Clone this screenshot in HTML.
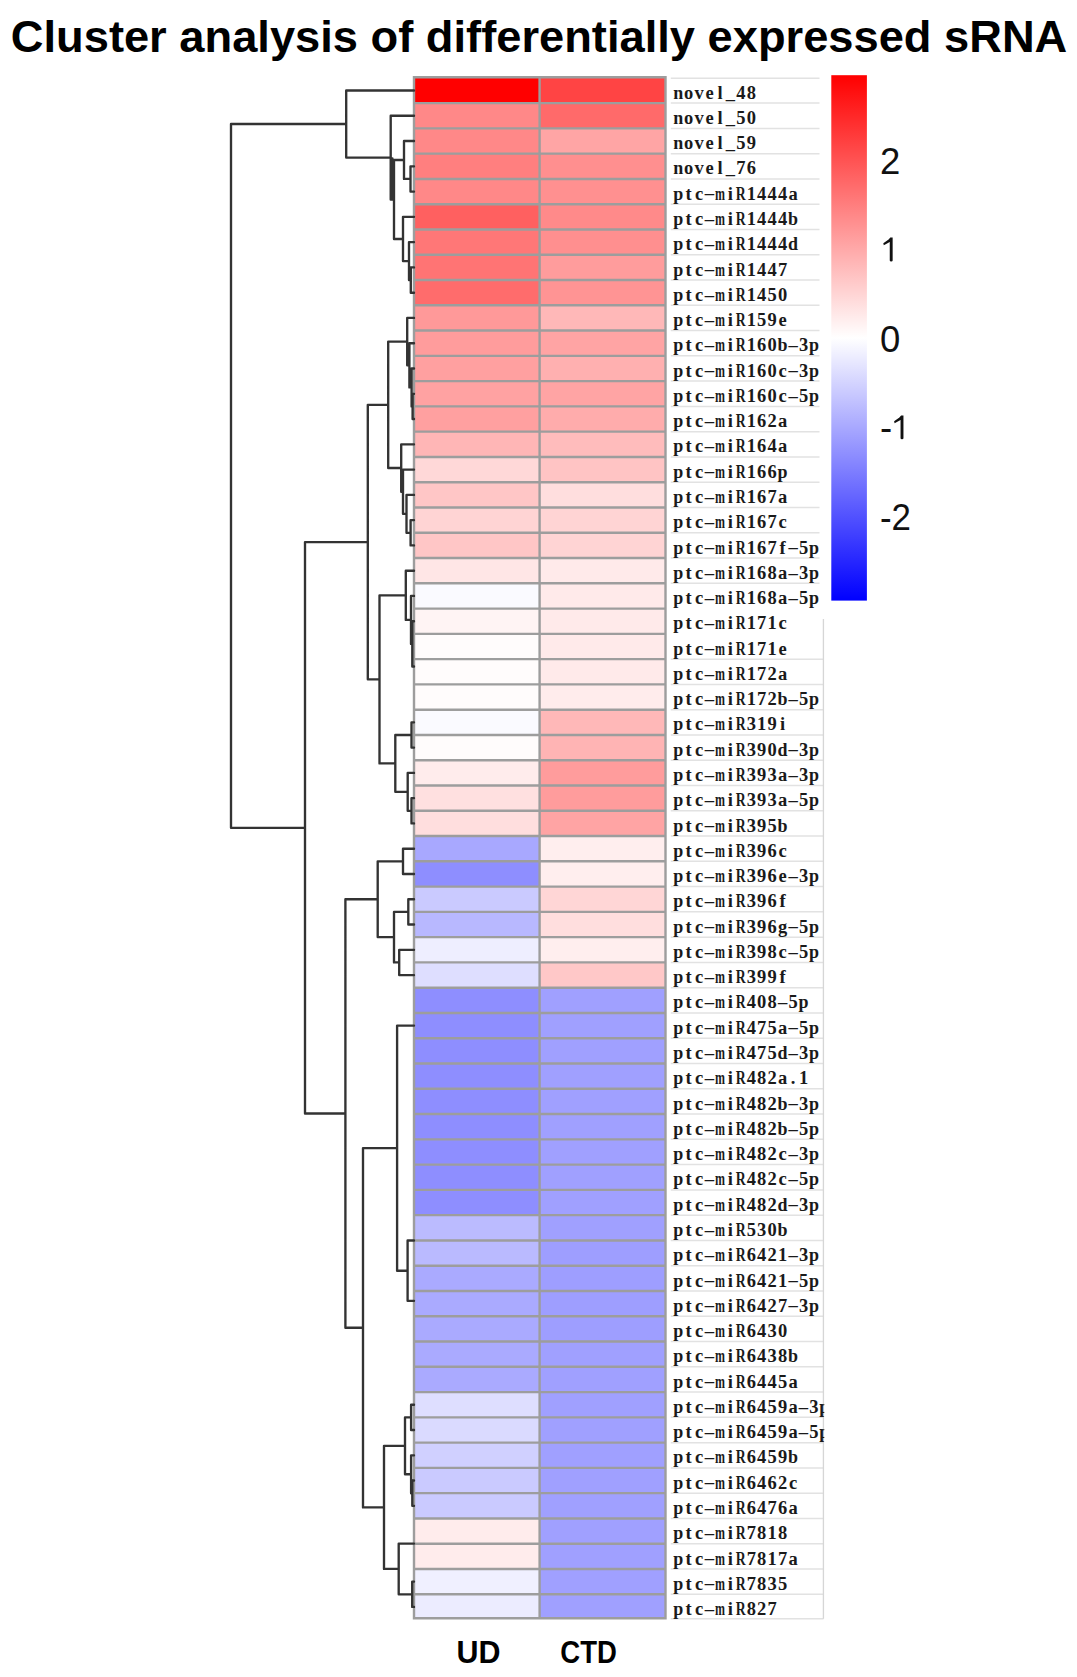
<!DOCTYPE html>
<html><head><meta charset="utf-8"><title>Cluster analysis of differentially expressed sRNA</title>
<style>
html,body{margin:0;padding:0;background:#fff;}
body{width:1077px;height:1677px;overflow:hidden;font-family:"Liberation Sans",sans-serif;}
svg{display:block;}
</style></head><body>
<svg width="1077" height="1677" viewBox="0 0 1077 1677">
<defs><linearGradient id="cb" x1="0" y1="0" x2="0" y2="1"><stop offset="0" stop-color="#ff0000"/><stop offset="0.5" stop-color="#ffffff"/><stop offset="1" stop-color="#0000ff"/></linearGradient></defs>
<rect x="0" y="0" width="1077" height="1677" fill="#ffffff"/>
<text x="10.8" y="52.2" font-family="Liberation Sans" font-weight="bold" font-size="45" textLength="1056.5" lengthAdjust="spacingAndGlyphs" fill="#000">Cluster analysis of differentially expressed sRNA</text>
<rect x="414.0" y="77.30" width="125.6" height="25.80" fill="#ff0000"/>
<rect x="539.6" y="77.30" width="125.9" height="25.80" fill="#ff4444"/>
<rect x="414.0" y="103.10" width="125.6" height="25.27" fill="#ff8888"/>
<rect x="539.6" y="103.10" width="125.9" height="25.27" fill="#ff6a6a"/>
<rect x="414.0" y="128.38" width="125.6" height="25.27" fill="#ff8888"/>
<rect x="539.6" y="128.38" width="125.9" height="25.27" fill="#ffa5a5"/>
<rect x="414.0" y="153.65" width="125.6" height="25.27" fill="#ff7f7f"/>
<rect x="539.6" y="153.65" width="125.9" height="25.27" fill="#ff8f8f"/>
<rect x="414.0" y="178.93" width="125.6" height="25.27" fill="#ff8888"/>
<rect x="539.6" y="178.93" width="125.9" height="25.27" fill="#ff9090"/>
<rect x="414.0" y="204.20" width="125.6" height="25.27" fill="#ff6060"/>
<rect x="539.6" y="204.20" width="125.9" height="25.27" fill="#ff8a8a"/>
<rect x="414.0" y="229.47" width="125.6" height="25.27" fill="#ff7777"/>
<rect x="539.6" y="229.47" width="125.9" height="25.27" fill="#ff8f8f"/>
<rect x="414.0" y="254.75" width="125.6" height="25.27" fill="#ff7474"/>
<rect x="539.6" y="254.75" width="125.9" height="25.27" fill="#ff9c9c"/>
<rect x="414.0" y="280.02" width="125.6" height="25.27" fill="#ff6c6c"/>
<rect x="539.6" y="280.02" width="125.9" height="25.27" fill="#ff9494"/>
<rect x="414.0" y="305.30" width="125.6" height="25.27" fill="#ff9999"/>
<rect x="539.6" y="305.30" width="125.9" height="25.27" fill="#ffb8b8"/>
<rect x="414.0" y="330.57" width="125.6" height="25.27" fill="#ff9c9c"/>
<rect x="539.6" y="330.57" width="125.9" height="25.27" fill="#ffa4a4"/>
<rect x="414.0" y="355.84" width="125.6" height="25.27" fill="#ffa0a0"/>
<rect x="539.6" y="355.84" width="125.9" height="25.27" fill="#ffb0b0"/>
<rect x="414.0" y="381.12" width="125.6" height="25.27" fill="#ffa2a2"/>
<rect x="539.6" y="381.12" width="125.9" height="25.27" fill="#ffa4a4"/>
<rect x="414.0" y="406.39" width="125.6" height="25.27" fill="#ffa0a0"/>
<rect x="539.6" y="406.39" width="125.9" height="25.27" fill="#ffacac"/>
<rect x="414.0" y="431.67" width="125.6" height="25.27" fill="#ffb6b6"/>
<rect x="539.6" y="431.67" width="125.9" height="25.27" fill="#ffbcbc"/>
<rect x="414.0" y="456.94" width="125.6" height="25.27" fill="#ffd8d8"/>
<rect x="539.6" y="456.94" width="125.9" height="25.27" fill="#ffc4c4"/>
<rect x="414.0" y="482.21" width="125.6" height="25.27" fill="#ffc6c6"/>
<rect x="539.6" y="482.21" width="125.9" height="25.27" fill="#ffdede"/>
<rect x="414.0" y="507.49" width="125.6" height="25.27" fill="#ffd4d4"/>
<rect x="539.6" y="507.49" width="125.9" height="25.27" fill="#ffd4d4"/>
<rect x="414.0" y="532.76" width="125.6" height="25.27" fill="#ffc6c6"/>
<rect x="539.6" y="532.76" width="125.9" height="25.27" fill="#ffd4d4"/>
<rect x="414.0" y="558.04" width="125.6" height="25.27" fill="#ffe6e6"/>
<rect x="539.6" y="558.04" width="125.9" height="25.27" fill="#ffeaea"/>
<rect x="414.0" y="583.31" width="125.6" height="25.27" fill="#fafaff"/>
<rect x="539.6" y="583.31" width="125.9" height="25.27" fill="#ffeaea"/>
<rect x="414.0" y="608.58" width="125.6" height="25.27" fill="#fff4f4"/>
<rect x="539.6" y="608.58" width="125.9" height="25.27" fill="#ffeaea"/>
<rect x="414.0" y="633.86" width="125.6" height="25.27" fill="#fffcfc"/>
<rect x="539.6" y="633.86" width="125.9" height="25.27" fill="#ffeaea"/>
<rect x="414.0" y="659.13" width="125.6" height="25.27" fill="#fffcfc"/>
<rect x="539.6" y="659.13" width="125.9" height="25.27" fill="#ffeaea"/>
<rect x="414.0" y="684.41" width="125.6" height="25.27" fill="#fffcfc"/>
<rect x="539.6" y="684.41" width="125.9" height="25.27" fill="#ffecec"/>
<rect x="414.0" y="709.68" width="125.6" height="25.27" fill="#fafaff"/>
<rect x="539.6" y="709.68" width="125.9" height="25.27" fill="#ffb8b8"/>
<rect x="414.0" y="734.95" width="125.6" height="25.27" fill="#fffcfc"/>
<rect x="539.6" y="734.95" width="125.9" height="25.27" fill="#ffb4b4"/>
<rect x="414.0" y="760.23" width="125.6" height="25.27" fill="#ffecec"/>
<rect x="539.6" y="760.23" width="125.9" height="25.27" fill="#ff9c9c"/>
<rect x="414.0" y="785.50" width="125.6" height="25.27" fill="#ffe0e0"/>
<rect x="539.6" y="785.50" width="125.9" height="25.27" fill="#ff9c9c"/>
<rect x="414.0" y="810.78" width="125.6" height="25.27" fill="#ffdede"/>
<rect x="539.6" y="810.78" width="125.9" height="25.27" fill="#ffa4a4"/>
<rect x="414.0" y="836.05" width="125.6" height="25.27" fill="#a8a8ff"/>
<rect x="539.6" y="836.05" width="125.9" height="25.27" fill="#ffeeee"/>
<rect x="414.0" y="861.32" width="125.6" height="25.27" fill="#8e8eff"/>
<rect x="539.6" y="861.32" width="125.9" height="25.27" fill="#ffeeee"/>
<rect x="414.0" y="886.60" width="125.6" height="25.27" fill="#cacaff"/>
<rect x="539.6" y="886.60" width="125.9" height="25.27" fill="#ffd6d6"/>
<rect x="414.0" y="911.87" width="125.6" height="25.27" fill="#b8b8ff"/>
<rect x="539.6" y="911.87" width="125.9" height="25.27" fill="#ffdede"/>
<rect x="414.0" y="937.15" width="125.6" height="25.27" fill="#eeeeff"/>
<rect x="539.6" y="937.15" width="125.9" height="25.27" fill="#ffeeee"/>
<rect x="414.0" y="962.42" width="125.6" height="25.27" fill="#dedeff"/>
<rect x="539.6" y="962.42" width="125.9" height="25.27" fill="#ffc8c8"/>
<rect x="414.0" y="987.69" width="125.6" height="25.27" fill="#8e8eff"/>
<rect x="539.6" y="987.69" width="125.9" height="25.27" fill="#a0a0ff"/>
<rect x="414.0" y="1012.97" width="125.6" height="25.27" fill="#8e8eff"/>
<rect x="539.6" y="1012.97" width="125.9" height="25.27" fill="#a0a0ff"/>
<rect x="414.0" y="1038.24" width="125.6" height="25.27" fill="#8e8eff"/>
<rect x="539.6" y="1038.24" width="125.9" height="25.27" fill="#a0a0ff"/>
<rect x="414.0" y="1063.52" width="125.6" height="25.27" fill="#8e8eff"/>
<rect x="539.6" y="1063.52" width="125.9" height="25.27" fill="#a0a0ff"/>
<rect x="414.0" y="1088.79" width="125.6" height="25.27" fill="#8e8eff"/>
<rect x="539.6" y="1088.79" width="125.9" height="25.27" fill="#a0a0ff"/>
<rect x="414.0" y="1114.06" width="125.6" height="25.27" fill="#8e8eff"/>
<rect x="539.6" y="1114.06" width="125.9" height="25.27" fill="#a0a0ff"/>
<rect x="414.0" y="1139.34" width="125.6" height="25.27" fill="#8e8eff"/>
<rect x="539.6" y="1139.34" width="125.9" height="25.27" fill="#a0a0ff"/>
<rect x="414.0" y="1164.61" width="125.6" height="25.27" fill="#8e8eff"/>
<rect x="539.6" y="1164.61" width="125.9" height="25.27" fill="#a0a0ff"/>
<rect x="414.0" y="1189.89" width="125.6" height="25.27" fill="#8e8eff"/>
<rect x="539.6" y="1189.89" width="125.9" height="25.27" fill="#a0a0ff"/>
<rect x="414.0" y="1215.16" width="125.6" height="25.27" fill="#bbbbff"/>
<rect x="539.6" y="1215.16" width="125.9" height="25.27" fill="#a0a0ff"/>
<rect x="414.0" y="1240.43" width="125.6" height="25.27" fill="#babaff"/>
<rect x="539.6" y="1240.43" width="125.9" height="25.27" fill="#9e9eff"/>
<rect x="414.0" y="1265.71" width="125.6" height="25.27" fill="#aaaaff"/>
<rect x="539.6" y="1265.71" width="125.9" height="25.27" fill="#9e9eff"/>
<rect x="414.0" y="1290.98" width="125.6" height="25.27" fill="#aaaaff"/>
<rect x="539.6" y="1290.98" width="125.9" height="25.27" fill="#9e9eff"/>
<rect x="414.0" y="1316.26" width="125.6" height="25.27" fill="#aaaaff"/>
<rect x="539.6" y="1316.26" width="125.9" height="25.27" fill="#9e9eff"/>
<rect x="414.0" y="1341.53" width="125.6" height="25.27" fill="#aaaaff"/>
<rect x="539.6" y="1341.53" width="125.9" height="25.27" fill="#a0a0ff"/>
<rect x="414.0" y="1366.80" width="125.6" height="25.27" fill="#aaaaff"/>
<rect x="539.6" y="1366.80" width="125.9" height="25.27" fill="#a0a0ff"/>
<rect x="414.0" y="1392.08" width="125.6" height="25.27" fill="#dedeff"/>
<rect x="539.6" y="1392.08" width="125.9" height="25.27" fill="#a0a0ff"/>
<rect x="414.0" y="1417.35" width="125.6" height="25.27" fill="#dadaff"/>
<rect x="539.6" y="1417.35" width="125.9" height="25.27" fill="#a0a0ff"/>
<rect x="414.0" y="1442.63" width="125.6" height="25.27" fill="#d0d0ff"/>
<rect x="539.6" y="1442.63" width="125.9" height="25.27" fill="#a0a0ff"/>
<rect x="414.0" y="1467.90" width="125.6" height="25.27" fill="#cacaff"/>
<rect x="539.6" y="1467.90" width="125.9" height="25.27" fill="#a0a0ff"/>
<rect x="414.0" y="1493.17" width="125.6" height="25.27" fill="#cacaff"/>
<rect x="539.6" y="1493.17" width="125.9" height="25.27" fill="#a0a0ff"/>
<rect x="414.0" y="1518.45" width="125.6" height="25.27" fill="#ffecec"/>
<rect x="539.6" y="1518.45" width="125.9" height="25.27" fill="#a0a0ff"/>
<rect x="414.0" y="1543.72" width="125.6" height="25.27" fill="#ffecec"/>
<rect x="539.6" y="1543.72" width="125.9" height="25.27" fill="#a0a0ff"/>
<rect x="414.0" y="1569.00" width="125.6" height="25.27" fill="#f0f0ff"/>
<rect x="539.6" y="1569.00" width="125.9" height="25.27" fill="#a0a0ff"/>
<rect x="414.0" y="1594.27" width="125.6" height="24.03" fill="#ececff"/>
<rect x="539.6" y="1594.27" width="125.9" height="24.03" fill="#a0a0ff"/>
<path d="M412.8 77.30H666.7M412.8 103.10H666.7M412.8 128.38H666.7M412.8 153.65H666.7M412.8 178.93H666.7M412.8 204.20H666.7M412.8 229.47H666.7M412.8 254.75H666.7M412.8 280.02H666.7M412.8 305.30H666.7M412.8 330.57H666.7M412.8 355.84H666.7M412.8 381.12H666.7M412.8 406.39H666.7M412.8 431.67H666.7M412.8 456.94H666.7M412.8 482.21H666.7M412.8 507.49H666.7M412.8 532.76H666.7M412.8 558.04H666.7M412.8 583.31H666.7M412.8 608.58H666.7M412.8 633.86H666.7M412.8 659.13H666.7M412.8 684.41H666.7M412.8 709.68H666.7M412.8 734.95H666.7M412.8 760.23H666.7M412.8 785.50H666.7M412.8 810.78H666.7M412.8 836.05H666.7M412.8 861.32H666.7M412.8 886.60H666.7M412.8 911.87H666.7M412.8 937.15H666.7M412.8 962.42H666.7M412.8 987.69H666.7M412.8 1012.97H666.7M412.8 1038.24H666.7M412.8 1063.52H666.7M412.8 1088.79H666.7M412.8 1114.06H666.7M412.8 1139.34H666.7M412.8 1164.61H666.7M412.8 1189.89H666.7M412.8 1215.16H666.7M412.8 1240.43H666.7M412.8 1265.71H666.7M412.8 1290.98H666.7M412.8 1316.26H666.7M412.8 1341.53H666.7M412.8 1366.80H666.7M412.8 1392.08H666.7M412.8 1417.35H666.7M412.8 1442.63H666.7M412.8 1467.90H666.7M412.8 1493.17H666.7M412.8 1518.45H666.7M412.8 1543.72H666.7M412.8 1569.00H666.7M412.8 1594.27H666.7M412.8 1618.30H666.7M414.0 76.1V1619.5M539.6 76.1V1619.5M665.5 76.1V1619.5" stroke="#9d9d9d" stroke-width="2.4" fill="none"/>
<path d="M670.8 78.30H819.5M670.8 103.10H819.5M670.8 128.38H819.5M670.8 153.65H819.5M670.8 178.93H819.5M670.8 204.20H819.5M670.8 229.47H819.5M670.8 254.75H819.5M670.8 280.02H819.5M670.8 305.30H819.5M670.8 330.57H819.5M670.8 355.84H819.5M670.8 381.12H819.5M670.8 406.39H819.5M670.8 431.67H819.5M670.8 456.94H819.5M670.8 482.21H819.5M670.8 507.49H819.5M670.8 532.76H819.5M670.8 558.04H819.5M670.8 583.31H819.5M670.8 659.13H823.5M670.8 684.41H823.5M670.8 709.68H823.5M670.8 734.95H823.5M670.8 760.23H823.5M670.8 785.50H823.5M670.8 810.78H823.5M670.8 836.05H823.5M670.8 861.32H823.5M670.8 886.60H823.5M670.8 911.87H823.5M670.8 937.15H823.5M670.8 962.42H823.5M670.8 987.69H823.5M670.8 1012.97H823.5M670.8 1038.24H823.5M670.8 1063.52H823.5M670.8 1088.79H823.5M670.8 1114.06H823.5M670.8 1139.34H823.5M670.8 1164.61H823.5M670.8 1189.89H823.5M670.8 1215.16H823.5M670.8 1240.43H823.5M670.8 1265.71H823.5M670.8 1290.98H823.5M670.8 1316.26H823.5M670.8 1341.53H823.5M670.8 1366.80H823.5M670.8 1392.08H823.5M670.8 1417.35H823.5M670.8 1442.63H823.5M670.8 1467.90H823.5M670.8 1493.17H823.5M670.8 1518.45H823.5M670.8 1543.72H823.5M670.8 1569.00H823.5M670.8 1594.27H823.5M670.8 1618.80H823.5" stroke="#e2e2e2" stroke-width="1.5" fill="none"/>
<path d="M823.5 619V1618.8" stroke="#d6d6d6" stroke-width="1.5" fill="none"/>
<g font-family="Liberation Serif" font-weight="bold" font-size="18.5" fill="#1a1a1a" text-anchor="middle">
<text transform="translate(678.22 98.63) scale(0.972 1)">n</text>
<text x="688.66 699.10 709.54 719.98 730.42 740.86 751.30" y="98.63">ovel_48</text>
<text transform="translate(678.22 123.90) scale(0.972 1)">n</text>
<text x="688.66 699.10 709.54 719.98 730.42 740.86 751.30" y="123.90">ovel_50</text>
<text transform="translate(678.22 149.18) scale(0.972 1)">n</text>
<text x="688.66 699.10 709.54 719.98 730.42 740.86 751.30" y="149.18">ovel_59</text>
<text transform="translate(678.22 174.45) scale(0.972 1)">n</text>
<text x="688.66 699.10 709.54 719.98 730.42 740.86 751.30" y="174.45">ovel_76</text>
<text transform="translate(678.22 199.73) scale(0.972 1)">p</text>
<text transform="translate(709.54 194.43) scale(2.0 0.75)" y="5.3">-</text>
<text transform="translate(719.98 199.73) scale(0.649 1)">m</text>
<text transform="translate(740.86 199.73) scale(0.748 1)">R</text>
<text x="688.66 699.10 730.42 751.30 761.74 772.18 782.62 793.06" y="199.73">tci1444a</text>
<text transform="translate(678.22 225.00) scale(0.972 1)">p</text>
<text transform="translate(709.54 219.70) scale(2.0 0.75)" y="5.3">-</text>
<text transform="translate(719.98 225.00) scale(0.649 1)">m</text>
<text transform="translate(740.86 225.00) scale(0.748 1)">R</text>
<text transform="translate(793.06 225.00) scale(0.972 1)">b</text>
<text x="688.66 699.10 730.42 751.30 761.74 772.18 782.62" y="225.00">tci1444</text>
<text transform="translate(678.22 250.27) scale(0.972 1)">p</text>
<text transform="translate(709.54 244.97) scale(2.0 0.75)" y="5.3">-</text>
<text transform="translate(719.98 250.27) scale(0.649 1)">m</text>
<text transform="translate(740.86 250.27) scale(0.748 1)">R</text>
<text transform="translate(793.06 250.27) scale(0.972 1)">d</text>
<text x="688.66 699.10 730.42 751.30 761.74 772.18 782.62" y="250.27">tci1444</text>
<text transform="translate(678.22 275.55) scale(0.972 1)">p</text>
<text transform="translate(709.54 270.25) scale(2.0 0.75)" y="5.3">-</text>
<text transform="translate(719.98 275.55) scale(0.649 1)">m</text>
<text transform="translate(740.86 275.55) scale(0.748 1)">R</text>
<text x="688.66 699.10 730.42 751.30 761.74 772.18 782.62" y="275.55">tci1447</text>
<text transform="translate(678.22 300.82) scale(0.972 1)">p</text>
<text transform="translate(709.54 295.52) scale(2.0 0.75)" y="5.3">-</text>
<text transform="translate(719.98 300.82) scale(0.649 1)">m</text>
<text transform="translate(740.86 300.82) scale(0.748 1)">R</text>
<text x="688.66 699.10 730.42 751.30 761.74 772.18 782.62" y="300.82">tci1450</text>
<text transform="translate(678.22 326.10) scale(0.972 1)">p</text>
<text transform="translate(709.54 320.80) scale(2.0 0.75)" y="5.3">-</text>
<text transform="translate(719.98 326.10) scale(0.649 1)">m</text>
<text transform="translate(740.86 326.10) scale(0.748 1)">R</text>
<text x="688.66 699.10 730.42 751.30 761.74 772.18 782.62" y="326.10">tci159e</text>
<text transform="translate(678.22 351.37) scale(0.972 1)">p</text>
<text transform="translate(709.54 346.07) scale(2.0 0.75)" y="5.3">-</text>
<text transform="translate(719.98 351.37) scale(0.649 1)">m</text>
<text transform="translate(740.86 351.37) scale(0.748 1)">R</text>
<text transform="translate(782.62 351.37) scale(0.972 1)">b</text>
<text transform="translate(793.06 346.07) scale(2.0 0.75)" y="5.3">-</text>
<text transform="translate(813.94 351.37) scale(0.972 1)">p</text>
<text x="688.66 699.10 730.42 751.30 761.74 772.18 803.50" y="351.37">tci1603</text>
<text transform="translate(678.22 376.64) scale(0.972 1)">p</text>
<text transform="translate(709.54 371.34) scale(2.0 0.75)" y="5.3">-</text>
<text transform="translate(719.98 376.64) scale(0.649 1)">m</text>
<text transform="translate(740.86 376.64) scale(0.748 1)">R</text>
<text transform="translate(793.06 371.34) scale(2.0 0.75)" y="5.3">-</text>
<text transform="translate(813.94 376.64) scale(0.972 1)">p</text>
<text x="688.66 699.10 730.42 751.30 761.74 772.18 782.62 803.50" y="376.64">tci160c3</text>
<text transform="translate(678.22 401.92) scale(0.972 1)">p</text>
<text transform="translate(709.54 396.62) scale(2.0 0.75)" y="5.3">-</text>
<text transform="translate(719.98 401.92) scale(0.649 1)">m</text>
<text transform="translate(740.86 401.92) scale(0.748 1)">R</text>
<text transform="translate(793.06 396.62) scale(2.0 0.75)" y="5.3">-</text>
<text transform="translate(813.94 401.92) scale(0.972 1)">p</text>
<text x="688.66 699.10 730.42 751.30 761.74 772.18 782.62 803.50" y="401.92">tci160c5</text>
<text transform="translate(678.22 427.19) scale(0.972 1)">p</text>
<text transform="translate(709.54 421.89) scale(2.0 0.75)" y="5.3">-</text>
<text transform="translate(719.98 427.19) scale(0.649 1)">m</text>
<text transform="translate(740.86 427.19) scale(0.748 1)">R</text>
<text x="688.66 699.10 730.42 751.30 761.74 772.18 782.62" y="427.19">tci162a</text>
<text transform="translate(678.22 452.47) scale(0.972 1)">p</text>
<text transform="translate(709.54 447.17) scale(2.0 0.75)" y="5.3">-</text>
<text transform="translate(719.98 452.47) scale(0.649 1)">m</text>
<text transform="translate(740.86 452.47) scale(0.748 1)">R</text>
<text x="688.66 699.10 730.42 751.30 761.74 772.18 782.62" y="452.47">tci164a</text>
<text transform="translate(678.22 477.74) scale(0.972 1)">p</text>
<text transform="translate(709.54 472.44) scale(2.0 0.75)" y="5.3">-</text>
<text transform="translate(719.98 477.74) scale(0.649 1)">m</text>
<text transform="translate(740.86 477.74) scale(0.748 1)">R</text>
<text transform="translate(782.62 477.74) scale(0.972 1)">p</text>
<text x="688.66 699.10 730.42 751.30 761.74 772.18" y="477.74">tci166</text>
<text transform="translate(678.22 503.01) scale(0.972 1)">p</text>
<text transform="translate(709.54 497.71) scale(2.0 0.75)" y="5.3">-</text>
<text transform="translate(719.98 503.01) scale(0.649 1)">m</text>
<text transform="translate(740.86 503.01) scale(0.748 1)">R</text>
<text x="688.66 699.10 730.42 751.30 761.74 772.18 782.62" y="503.01">tci167a</text>
<text transform="translate(678.22 528.29) scale(0.972 1)">p</text>
<text transform="translate(709.54 522.99) scale(2.0 0.75)" y="5.3">-</text>
<text transform="translate(719.98 528.29) scale(0.649 1)">m</text>
<text transform="translate(740.86 528.29) scale(0.748 1)">R</text>
<text x="688.66 699.10 730.42 751.30 761.74 772.18 782.62" y="528.29">tci167c</text>
<text transform="translate(678.22 553.56) scale(0.972 1)">p</text>
<text transform="translate(709.54 548.26) scale(2.0 0.75)" y="5.3">-</text>
<text transform="translate(719.98 553.56) scale(0.649 1)">m</text>
<text transform="translate(740.86 553.56) scale(0.748 1)">R</text>
<text transform="translate(793.06 548.26) scale(2.0 0.75)" y="5.3">-</text>
<text transform="translate(813.94 553.56) scale(0.972 1)">p</text>
<text x="688.66 699.10 730.42 751.30 761.74 772.18 782.62 803.50" y="553.56">tci167f5</text>
<text transform="translate(678.22 578.84) scale(0.972 1)">p</text>
<text transform="translate(709.54 573.54) scale(2.0 0.75)" y="5.3">-</text>
<text transform="translate(719.98 578.84) scale(0.649 1)">m</text>
<text transform="translate(740.86 578.84) scale(0.748 1)">R</text>
<text transform="translate(793.06 573.54) scale(2.0 0.75)" y="5.3">-</text>
<text transform="translate(813.94 578.84) scale(0.972 1)">p</text>
<text x="688.66 699.10 730.42 751.30 761.74 772.18 782.62 803.50" y="578.84">tci168a3</text>
<text transform="translate(678.22 604.11) scale(0.972 1)">p</text>
<text transform="translate(709.54 598.81) scale(2.0 0.75)" y="5.3">-</text>
<text transform="translate(719.98 604.11) scale(0.649 1)">m</text>
<text transform="translate(740.86 604.11) scale(0.748 1)">R</text>
<text transform="translate(793.06 598.81) scale(2.0 0.75)" y="5.3">-</text>
<text transform="translate(813.94 604.11) scale(0.972 1)">p</text>
<text x="688.66 699.10 730.42 751.30 761.74 772.18 782.62 803.50" y="604.11">tci168a5</text>
<text transform="translate(678.22 629.38) scale(0.972 1)">p</text>
<text transform="translate(709.54 624.08) scale(2.0 0.75)" y="5.3">-</text>
<text transform="translate(719.98 629.38) scale(0.649 1)">m</text>
<text transform="translate(740.86 629.38) scale(0.748 1)">R</text>
<text x="688.66 699.10 730.42 751.30 761.74 772.18 782.62" y="629.38">tci171c</text>
<text transform="translate(678.22 654.66) scale(0.972 1)">p</text>
<text transform="translate(709.54 649.36) scale(2.0 0.75)" y="5.3">-</text>
<text transform="translate(719.98 654.66) scale(0.649 1)">m</text>
<text transform="translate(740.86 654.66) scale(0.748 1)">R</text>
<text x="688.66 699.10 730.42 751.30 761.74 772.18 782.62" y="654.66">tci171e</text>
<text transform="translate(678.22 679.93) scale(0.972 1)">p</text>
<text transform="translate(709.54 674.63) scale(2.0 0.75)" y="5.3">-</text>
<text transform="translate(719.98 679.93) scale(0.649 1)">m</text>
<text transform="translate(740.86 679.93) scale(0.748 1)">R</text>
<text x="688.66 699.10 730.42 751.30 761.74 772.18 782.62" y="679.93">tci172a</text>
<text transform="translate(678.22 705.21) scale(0.972 1)">p</text>
<text transform="translate(709.54 699.91) scale(2.0 0.75)" y="5.3">-</text>
<text transform="translate(719.98 705.21) scale(0.649 1)">m</text>
<text transform="translate(740.86 705.21) scale(0.748 1)">R</text>
<text transform="translate(782.62 705.21) scale(0.972 1)">b</text>
<text transform="translate(793.06 699.91) scale(2.0 0.75)" y="5.3">-</text>
<text transform="translate(813.94 705.21) scale(0.972 1)">p</text>
<text x="688.66 699.10 730.42 751.30 761.74 772.18 803.50" y="705.21">tci1725</text>
<text transform="translate(678.22 730.48) scale(0.972 1)">p</text>
<text transform="translate(709.54 725.18) scale(2.0 0.75)" y="5.3">-</text>
<text transform="translate(719.98 730.48) scale(0.649 1)">m</text>
<text transform="translate(740.86 730.48) scale(0.748 1)">R</text>
<text x="688.66 699.10 730.42 751.30 761.74 772.18 782.62" y="730.48">tci319i</text>
<text transform="translate(678.22 755.75) scale(0.972 1)">p</text>
<text transform="translate(709.54 750.45) scale(2.0 0.75)" y="5.3">-</text>
<text transform="translate(719.98 755.75) scale(0.649 1)">m</text>
<text transform="translate(740.86 755.75) scale(0.748 1)">R</text>
<text transform="translate(782.62 755.75) scale(0.972 1)">d</text>
<text transform="translate(793.06 750.45) scale(2.0 0.75)" y="5.3">-</text>
<text transform="translate(813.94 755.75) scale(0.972 1)">p</text>
<text x="688.66 699.10 730.42 751.30 761.74 772.18 803.50" y="755.75">tci3903</text>
<text transform="translate(678.22 781.03) scale(0.972 1)">p</text>
<text transform="translate(709.54 775.73) scale(2.0 0.75)" y="5.3">-</text>
<text transform="translate(719.98 781.03) scale(0.649 1)">m</text>
<text transform="translate(740.86 781.03) scale(0.748 1)">R</text>
<text transform="translate(793.06 775.73) scale(2.0 0.75)" y="5.3">-</text>
<text transform="translate(813.94 781.03) scale(0.972 1)">p</text>
<text x="688.66 699.10 730.42 751.30 761.74 772.18 782.62 803.50" y="781.03">tci393a3</text>
<text transform="translate(678.22 806.30) scale(0.972 1)">p</text>
<text transform="translate(709.54 801.00) scale(2.0 0.75)" y="5.3">-</text>
<text transform="translate(719.98 806.30) scale(0.649 1)">m</text>
<text transform="translate(740.86 806.30) scale(0.748 1)">R</text>
<text transform="translate(793.06 801.00) scale(2.0 0.75)" y="5.3">-</text>
<text transform="translate(813.94 806.30) scale(0.972 1)">p</text>
<text x="688.66 699.10 730.42 751.30 761.74 772.18 782.62 803.50" y="806.30">tci393a5</text>
<text transform="translate(678.22 831.58) scale(0.972 1)">p</text>
<text transform="translate(709.54 826.28) scale(2.0 0.75)" y="5.3">-</text>
<text transform="translate(719.98 831.58) scale(0.649 1)">m</text>
<text transform="translate(740.86 831.58) scale(0.748 1)">R</text>
<text transform="translate(782.62 831.58) scale(0.972 1)">b</text>
<text x="688.66 699.10 730.42 751.30 761.74 772.18" y="831.58">tci395</text>
<text transform="translate(678.22 856.85) scale(0.972 1)">p</text>
<text transform="translate(709.54 851.55) scale(2.0 0.75)" y="5.3">-</text>
<text transform="translate(719.98 856.85) scale(0.649 1)">m</text>
<text transform="translate(740.86 856.85) scale(0.748 1)">R</text>
<text x="688.66 699.10 730.42 751.30 761.74 772.18 782.62" y="856.85">tci396c</text>
<text transform="translate(678.22 882.12) scale(0.972 1)">p</text>
<text transform="translate(709.54 876.82) scale(2.0 0.75)" y="5.3">-</text>
<text transform="translate(719.98 882.12) scale(0.649 1)">m</text>
<text transform="translate(740.86 882.12) scale(0.748 1)">R</text>
<text transform="translate(793.06 876.82) scale(2.0 0.75)" y="5.3">-</text>
<text transform="translate(813.94 882.12) scale(0.972 1)">p</text>
<text x="688.66 699.10 730.42 751.30 761.74 772.18 782.62 803.50" y="882.12">tci396e3</text>
<text transform="translate(678.22 907.40) scale(0.972 1)">p</text>
<text transform="translate(709.54 902.10) scale(2.0 0.75)" y="5.3">-</text>
<text transform="translate(719.98 907.40) scale(0.649 1)">m</text>
<text transform="translate(740.86 907.40) scale(0.748 1)">R</text>
<text x="688.66 699.10 730.42 751.30 761.74 772.18 782.62" y="907.40">tci396f</text>
<text transform="translate(678.22 932.67) scale(0.972 1)">p</text>
<text transform="translate(709.54 927.37) scale(2.0 0.75)" y="5.3">-</text>
<text transform="translate(719.98 932.67) scale(0.649 1)">m</text>
<text transform="translate(740.86 932.67) scale(0.748 1)">R</text>
<text transform="translate(793.06 927.37) scale(2.0 0.75)" y="5.3">-</text>
<text transform="translate(813.94 932.67) scale(0.972 1)">p</text>
<text x="688.66 699.10 730.42 751.30 761.74 772.18 782.62 803.50" y="932.67">tci396g5</text>
<text transform="translate(678.22 957.95) scale(0.972 1)">p</text>
<text transform="translate(709.54 952.65) scale(2.0 0.75)" y="5.3">-</text>
<text transform="translate(719.98 957.95) scale(0.649 1)">m</text>
<text transform="translate(740.86 957.95) scale(0.748 1)">R</text>
<text transform="translate(793.06 952.65) scale(2.0 0.75)" y="5.3">-</text>
<text transform="translate(813.94 957.95) scale(0.972 1)">p</text>
<text x="688.66 699.10 730.42 751.30 761.74 772.18 782.62 803.50" y="957.95">tci398c5</text>
<text transform="translate(678.22 983.22) scale(0.972 1)">p</text>
<text transform="translate(709.54 977.92) scale(2.0 0.75)" y="5.3">-</text>
<text transform="translate(719.98 983.22) scale(0.649 1)">m</text>
<text transform="translate(740.86 983.22) scale(0.748 1)">R</text>
<text x="688.66 699.10 730.42 751.30 761.74 772.18 782.62" y="983.22">tci399f</text>
<text transform="translate(678.22 1008.49) scale(0.972 1)">p</text>
<text transform="translate(709.54 1003.19) scale(2.0 0.75)" y="5.3">-</text>
<text transform="translate(719.98 1008.49) scale(0.649 1)">m</text>
<text transform="translate(740.86 1008.49) scale(0.748 1)">R</text>
<text transform="translate(782.62 1003.19) scale(2.0 0.75)" y="5.3">-</text>
<text transform="translate(803.50 1008.49) scale(0.972 1)">p</text>
<text x="688.66 699.10 730.42 751.30 761.74 772.18 793.06" y="1008.49">tci4085</text>
<text transform="translate(678.22 1033.77) scale(0.972 1)">p</text>
<text transform="translate(709.54 1028.47) scale(2.0 0.75)" y="5.3">-</text>
<text transform="translate(719.98 1033.77) scale(0.649 1)">m</text>
<text transform="translate(740.86 1033.77) scale(0.748 1)">R</text>
<text transform="translate(793.06 1028.47) scale(2.0 0.75)" y="5.3">-</text>
<text transform="translate(813.94 1033.77) scale(0.972 1)">p</text>
<text x="688.66 699.10 730.42 751.30 761.74 772.18 782.62 803.50" y="1033.77">tci475a5</text>
<text transform="translate(678.22 1059.04) scale(0.972 1)">p</text>
<text transform="translate(709.54 1053.74) scale(2.0 0.75)" y="5.3">-</text>
<text transform="translate(719.98 1059.04) scale(0.649 1)">m</text>
<text transform="translate(740.86 1059.04) scale(0.748 1)">R</text>
<text transform="translate(782.62 1059.04) scale(0.972 1)">d</text>
<text transform="translate(793.06 1053.74) scale(2.0 0.75)" y="5.3">-</text>
<text transform="translate(813.94 1059.04) scale(0.972 1)">p</text>
<text x="688.66 699.10 730.42 751.30 761.74 772.18 803.50" y="1059.04">tci4753</text>
<text transform="translate(678.22 1084.32) scale(0.972 1)">p</text>
<text transform="translate(709.54 1079.02) scale(2.0 0.75)" y="5.3">-</text>
<text transform="translate(719.98 1084.32) scale(0.649 1)">m</text>
<text transform="translate(740.86 1084.32) scale(0.748 1)">R</text>
<text x="688.66 699.10 730.42 751.30 761.74 772.18 782.62 793.06 803.50" y="1084.32">tci482a.1</text>
<text transform="translate(678.22 1109.59) scale(0.972 1)">p</text>
<text transform="translate(709.54 1104.29) scale(2.0 0.75)" y="5.3">-</text>
<text transform="translate(719.98 1109.59) scale(0.649 1)">m</text>
<text transform="translate(740.86 1109.59) scale(0.748 1)">R</text>
<text transform="translate(782.62 1109.59) scale(0.972 1)">b</text>
<text transform="translate(793.06 1104.29) scale(2.0 0.75)" y="5.3">-</text>
<text transform="translate(813.94 1109.59) scale(0.972 1)">p</text>
<text x="688.66 699.10 730.42 751.30 761.74 772.18 803.50" y="1109.59">tci4823</text>
<text transform="translate(678.22 1134.86) scale(0.972 1)">p</text>
<text transform="translate(709.54 1129.56) scale(2.0 0.75)" y="5.3">-</text>
<text transform="translate(719.98 1134.86) scale(0.649 1)">m</text>
<text transform="translate(740.86 1134.86) scale(0.748 1)">R</text>
<text transform="translate(782.62 1134.86) scale(0.972 1)">b</text>
<text transform="translate(793.06 1129.56) scale(2.0 0.75)" y="5.3">-</text>
<text transform="translate(813.94 1134.86) scale(0.972 1)">p</text>
<text x="688.66 699.10 730.42 751.30 761.74 772.18 803.50" y="1134.86">tci4825</text>
<text transform="translate(678.22 1160.14) scale(0.972 1)">p</text>
<text transform="translate(709.54 1154.84) scale(2.0 0.75)" y="5.3">-</text>
<text transform="translate(719.98 1160.14) scale(0.649 1)">m</text>
<text transform="translate(740.86 1160.14) scale(0.748 1)">R</text>
<text transform="translate(793.06 1154.84) scale(2.0 0.75)" y="5.3">-</text>
<text transform="translate(813.94 1160.14) scale(0.972 1)">p</text>
<text x="688.66 699.10 730.42 751.30 761.74 772.18 782.62 803.50" y="1160.14">tci482c3</text>
<text transform="translate(678.22 1185.41) scale(0.972 1)">p</text>
<text transform="translate(709.54 1180.11) scale(2.0 0.75)" y="5.3">-</text>
<text transform="translate(719.98 1185.41) scale(0.649 1)">m</text>
<text transform="translate(740.86 1185.41) scale(0.748 1)">R</text>
<text transform="translate(793.06 1180.11) scale(2.0 0.75)" y="5.3">-</text>
<text transform="translate(813.94 1185.41) scale(0.972 1)">p</text>
<text x="688.66 699.10 730.42 751.30 761.74 772.18 782.62 803.50" y="1185.41">tci482c5</text>
<text transform="translate(678.22 1210.69) scale(0.972 1)">p</text>
<text transform="translate(709.54 1205.39) scale(2.0 0.75)" y="5.3">-</text>
<text transform="translate(719.98 1210.69) scale(0.649 1)">m</text>
<text transform="translate(740.86 1210.69) scale(0.748 1)">R</text>
<text transform="translate(782.62 1210.69) scale(0.972 1)">d</text>
<text transform="translate(793.06 1205.39) scale(2.0 0.75)" y="5.3">-</text>
<text transform="translate(813.94 1210.69) scale(0.972 1)">p</text>
<text x="688.66 699.10 730.42 751.30 761.74 772.18 803.50" y="1210.69">tci4823</text>
<text transform="translate(678.22 1235.96) scale(0.972 1)">p</text>
<text transform="translate(709.54 1230.66) scale(2.0 0.75)" y="5.3">-</text>
<text transform="translate(719.98 1235.96) scale(0.649 1)">m</text>
<text transform="translate(740.86 1235.96) scale(0.748 1)">R</text>
<text transform="translate(782.62 1235.96) scale(0.972 1)">b</text>
<text x="688.66 699.10 730.42 751.30 761.74 772.18" y="1235.96">tci530</text>
<text transform="translate(678.22 1261.23) scale(0.972 1)">p</text>
<text transform="translate(709.54 1255.93) scale(2.0 0.75)" y="5.3">-</text>
<text transform="translate(719.98 1261.23) scale(0.649 1)">m</text>
<text transform="translate(740.86 1261.23) scale(0.748 1)">R</text>
<text transform="translate(793.06 1255.93) scale(2.0 0.75)" y="5.3">-</text>
<text transform="translate(813.94 1261.23) scale(0.972 1)">p</text>
<text x="688.66 699.10 730.42 751.30 761.74 772.18 782.62 803.50" y="1261.23">tci64213</text>
<text transform="translate(678.22 1286.51) scale(0.972 1)">p</text>
<text transform="translate(709.54 1281.21) scale(2.0 0.75)" y="5.3">-</text>
<text transform="translate(719.98 1286.51) scale(0.649 1)">m</text>
<text transform="translate(740.86 1286.51) scale(0.748 1)">R</text>
<text transform="translate(793.06 1281.21) scale(2.0 0.75)" y="5.3">-</text>
<text transform="translate(813.94 1286.51) scale(0.972 1)">p</text>
<text x="688.66 699.10 730.42 751.30 761.74 772.18 782.62 803.50" y="1286.51">tci64215</text>
<text transform="translate(678.22 1311.78) scale(0.972 1)">p</text>
<text transform="translate(709.54 1306.48) scale(2.0 0.75)" y="5.3">-</text>
<text transform="translate(719.98 1311.78) scale(0.649 1)">m</text>
<text transform="translate(740.86 1311.78) scale(0.748 1)">R</text>
<text transform="translate(793.06 1306.48) scale(2.0 0.75)" y="5.3">-</text>
<text transform="translate(813.94 1311.78) scale(0.972 1)">p</text>
<text x="688.66 699.10 730.42 751.30 761.74 772.18 782.62 803.50" y="1311.78">tci64273</text>
<text transform="translate(678.22 1337.06) scale(0.972 1)">p</text>
<text transform="translate(709.54 1331.76) scale(2.0 0.75)" y="5.3">-</text>
<text transform="translate(719.98 1337.06) scale(0.649 1)">m</text>
<text transform="translate(740.86 1337.06) scale(0.748 1)">R</text>
<text x="688.66 699.10 730.42 751.30 761.74 772.18 782.62" y="1337.06">tci6430</text>
<text transform="translate(678.22 1362.33) scale(0.972 1)">p</text>
<text transform="translate(709.54 1357.03) scale(2.0 0.75)" y="5.3">-</text>
<text transform="translate(719.98 1362.33) scale(0.649 1)">m</text>
<text transform="translate(740.86 1362.33) scale(0.748 1)">R</text>
<text transform="translate(793.06 1362.33) scale(0.972 1)">b</text>
<text x="688.66 699.10 730.42 751.30 761.74 772.18 782.62" y="1362.33">tci6438</text>
<text transform="translate(678.22 1387.60) scale(0.972 1)">p</text>
<text transform="translate(709.54 1382.30) scale(2.0 0.75)" y="5.3">-</text>
<text transform="translate(719.98 1387.60) scale(0.649 1)">m</text>
<text transform="translate(740.86 1387.60) scale(0.748 1)">R</text>
<text x="688.66 699.10 730.42 751.30 761.74 772.18 782.62 793.06" y="1387.60">tci6445a</text>
<text transform="translate(678.22 1412.88) scale(0.972 1)">p</text>
<text transform="translate(709.54 1407.58) scale(2.0 0.75)" y="5.3">-</text>
<text transform="translate(719.98 1412.88) scale(0.649 1)">m</text>
<text transform="translate(740.86 1412.88) scale(0.748 1)">R</text>
<text transform="translate(803.50 1407.58) scale(2.0 0.75)" y="5.3">-</text>
<text transform="translate(824.38 1412.88) scale(0.972 1)">p</text>
<text x="688.66 699.10 730.42 751.30 761.74 772.18 782.62 793.06 813.94" y="1412.88">tci6459a3</text>
<text transform="translate(678.22 1438.15) scale(0.972 1)">p</text>
<text transform="translate(709.54 1432.85) scale(2.0 0.75)" y="5.3">-</text>
<text transform="translate(719.98 1438.15) scale(0.649 1)">m</text>
<text transform="translate(740.86 1438.15) scale(0.748 1)">R</text>
<text transform="translate(803.50 1432.85) scale(2.0 0.75)" y="5.3">-</text>
<text transform="translate(824.38 1438.15) scale(0.972 1)">p</text>
<text x="688.66 699.10 730.42 751.30 761.74 772.18 782.62 793.06 813.94" y="1438.15">tci6459a5</text>
<text transform="translate(678.22 1463.43) scale(0.972 1)">p</text>
<text transform="translate(709.54 1458.13) scale(2.0 0.75)" y="5.3">-</text>
<text transform="translate(719.98 1463.43) scale(0.649 1)">m</text>
<text transform="translate(740.86 1463.43) scale(0.748 1)">R</text>
<text transform="translate(793.06 1463.43) scale(0.972 1)">b</text>
<text x="688.66 699.10 730.42 751.30 761.74 772.18 782.62" y="1463.43">tci6459</text>
<text transform="translate(678.22 1488.70) scale(0.972 1)">p</text>
<text transform="translate(709.54 1483.40) scale(2.0 0.75)" y="5.3">-</text>
<text transform="translate(719.98 1488.70) scale(0.649 1)">m</text>
<text transform="translate(740.86 1488.70) scale(0.748 1)">R</text>
<text x="688.66 699.10 730.42 751.30 761.74 772.18 782.62 793.06" y="1488.70">tci6462c</text>
<text transform="translate(678.22 1513.97) scale(0.972 1)">p</text>
<text transform="translate(709.54 1508.67) scale(2.0 0.75)" y="5.3">-</text>
<text transform="translate(719.98 1513.97) scale(0.649 1)">m</text>
<text transform="translate(740.86 1513.97) scale(0.748 1)">R</text>
<text x="688.66 699.10 730.42 751.30 761.74 772.18 782.62 793.06" y="1513.97">tci6476a</text>
<text transform="translate(678.22 1539.25) scale(0.972 1)">p</text>
<text transform="translate(709.54 1533.95) scale(2.0 0.75)" y="5.3">-</text>
<text transform="translate(719.98 1539.25) scale(0.649 1)">m</text>
<text transform="translate(740.86 1539.25) scale(0.748 1)">R</text>
<text x="688.66 699.10 730.42 751.30 761.74 772.18 782.62" y="1539.25">tci7818</text>
<text transform="translate(678.22 1564.52) scale(0.972 1)">p</text>
<text transform="translate(709.54 1559.22) scale(2.0 0.75)" y="5.3">-</text>
<text transform="translate(719.98 1564.52) scale(0.649 1)">m</text>
<text transform="translate(740.86 1564.52) scale(0.748 1)">R</text>
<text x="688.66 699.10 730.42 751.30 761.74 772.18 782.62 793.06" y="1564.52">tci7817a</text>
<text transform="translate(678.22 1589.80) scale(0.972 1)">p</text>
<text transform="translate(709.54 1584.50) scale(2.0 0.75)" y="5.3">-</text>
<text transform="translate(719.98 1589.80) scale(0.649 1)">m</text>
<text transform="translate(740.86 1589.80) scale(0.748 1)">R</text>
<text x="688.66 699.10 730.42 751.30 761.74 772.18 782.62" y="1589.80">tci7835</text>
<text transform="translate(678.22 1615.07) scale(0.972 1)">p</text>
<text transform="translate(709.54 1609.77) scale(2.0 0.75)" y="5.3">-</text>
<text transform="translate(719.98 1615.07) scale(0.649 1)">m</text>
<text transform="translate(740.86 1615.07) scale(0.748 1)">R</text>
<text x="688.66 699.10 730.42 751.30 761.74 772.18" y="1615.07">tci827</text>
</g>
<rect x="824.3" y="608.6" width="60" height="1011.4" fill="#ffffff"/>
<path d="M410.5 166.3V191.6M410.5 166.3H414.0M410.5 191.6H414.0M404.0 141.0V178.9M404.0 141.0H414.0M404.0 178.9H410.5M410.8 267.4V292.7M410.8 267.4H414.0M410.8 292.7H414.0M409.0 242.1V280.0M409.0 242.1H414.0M409.0 280.0H410.8M403.0 216.8V261.1M403.0 216.8H414.0M403.0 261.1H409.0M394.0 160.0V239.0M394.0 160.0H404.0M394.0 239.0H403.0M390.7 115.7V199.5M390.7 115.7H414.0M390.7 199.5H394.0M346.2 90.5V157.6M346.2 90.5H414.0M346.2 157.6H390.7M412.6 393.8V419.0M412.6 393.8H414.0M412.6 419.0H414.0M411.6 368.5V406.4M411.6 368.5H414.0M411.6 406.4H412.6M409.4 343.2V387.4M409.4 343.2H414.0M409.4 387.4H411.6M407.2 317.9V365.3M407.2 317.9H414.0M407.2 365.3H409.4M410.6 520.1V545.4M410.6 520.1H414.0M410.6 545.4H414.0M406.5 494.9V532.8M406.5 494.9H414.0M406.5 532.8H410.6M403.0 469.6V513.8M403.0 469.6H414.0M403.0 513.8H406.5M401.2 444.3V491.7M401.2 444.3H414.0M401.2 491.7H403.0M388.2 341.6V468.0M388.2 341.6H407.2M388.2 468.0H401.2M412.3 621.2V666.5M412.3 621.2H414.0M412.3 666.5H414.0M411.0 595.9V643.9M411.0 595.9H414.0M411.0 643.9H412.3M405.8 570.7V619.9M405.8 570.7H414.0M405.8 619.9H411.0M411.5 722.3V747.6M411.5 722.3H414.0M411.5 747.6H414.0M411.5 798.1V823.4M411.5 798.1H414.0M411.5 823.4H414.0M407.7 772.9V810.8M407.7 772.9H414.0M407.7 810.8H411.5M395.3 735.0V791.8M395.3 735.0H411.5M395.3 791.8H407.7M379.5 595.3V763.4M379.5 595.3H405.8M379.5 763.4H395.3M367.8 404.8V679.3M367.8 404.8H388.2M367.8 679.3H379.5M403.0 848.7V874.0M403.0 848.7H414.0M403.0 874.0H414.0M408.3 899.2V924.5M408.3 899.2H414.0M408.3 924.5H414.0M399.2 949.8V975.1M399.2 949.8H414.0M399.2 975.1H414.0M394.0 911.9V962.4M394.0 911.9H408.3M394.0 962.4H399.2M377.7 861.3V937.1M377.7 861.3H403.0M377.7 937.1H394.0M407.6 1240.5V1300.8M407.6 1240.5H414.0M407.6 1300.8H414.0M397.1 1025.6V1270.7M397.1 1025.6H414.0M397.1 1270.7H407.6M411.1 1404.7V1430.0M411.1 1404.7H414.0M411.1 1430.0H414.0M412.3 1480.5V1505.8M412.3 1480.5H414.0M412.3 1505.8H414.0M411.1 1455.3V1493.2M411.1 1455.3H414.0M411.1 1493.2H412.3M405.0 1417.4V1474.2M405.0 1417.4H411.1M405.0 1474.2H411.1M412.2 1581.6V1606.9M412.2 1581.6H414.0M412.2 1606.9H414.0M398.7 1543.6V1594.3M398.7 1543.6H414.0M398.7 1594.3H412.2M384.0 1445.8V1568.9M384.0 1445.8H405.0M384.0 1568.9H398.7M363.0 1148.1V1507.4M363.0 1148.1H397.1M363.0 1507.4H384.0M345.4 899.2V1327.7M345.4 899.2H377.7M345.4 1327.7H363.0M305.0 542.1V1113.5M305.0 542.1H367.8M305.0 1113.5H345.4M231.0 124.0V827.8M231.0 124.0H346.2M231.0 827.8H305.0M392.4 158.5V199.5" stroke="#333333" stroke-width="2.35" fill="none" stroke-linecap="round"/>
<rect x="831.3" y="75.2" width="35.6" height="525.4" fill="url(#cb)"/>
<g font-family="Liberation Sans" font-size="36.5" fill="#111">
<text x="880.0" y="174.1">2</text>
<text x="880.0" y="351.8">0</text>
<text x="880.0" y="529.7" textLength="31" lengthAdjust="spacingAndGlyphs">-2</text>
<text x="880.0" y="439.8">-</text>
</g>
<path d="M892.65 237.40V260.50Q892.65 261.50 891.20 261.50Q889.75 261.50 889.75 260.50V242.00L883.80 245.30L883.30 243.30L888.60 239.40L890.30 237.40ZM903.45 415.40V438.20Q903.45 439.20 902.00 439.20Q900.55 439.20 900.55 438.20V420.00L894.60 423.30L894.10 421.30L899.40 417.40L901.10 415.40Z" fill="#111"/>
<g font-family="Liberation Sans" font-weight="bold" font-size="31.5" fill="#000">
<text x="456.6" y="1663.4" textLength="44" lengthAdjust="spacingAndGlyphs">UD</text>
<text x="560.3" y="1663.4" textLength="56.5" lengthAdjust="spacingAndGlyphs">CTD</text>
</g>
</svg>
</body></html>
